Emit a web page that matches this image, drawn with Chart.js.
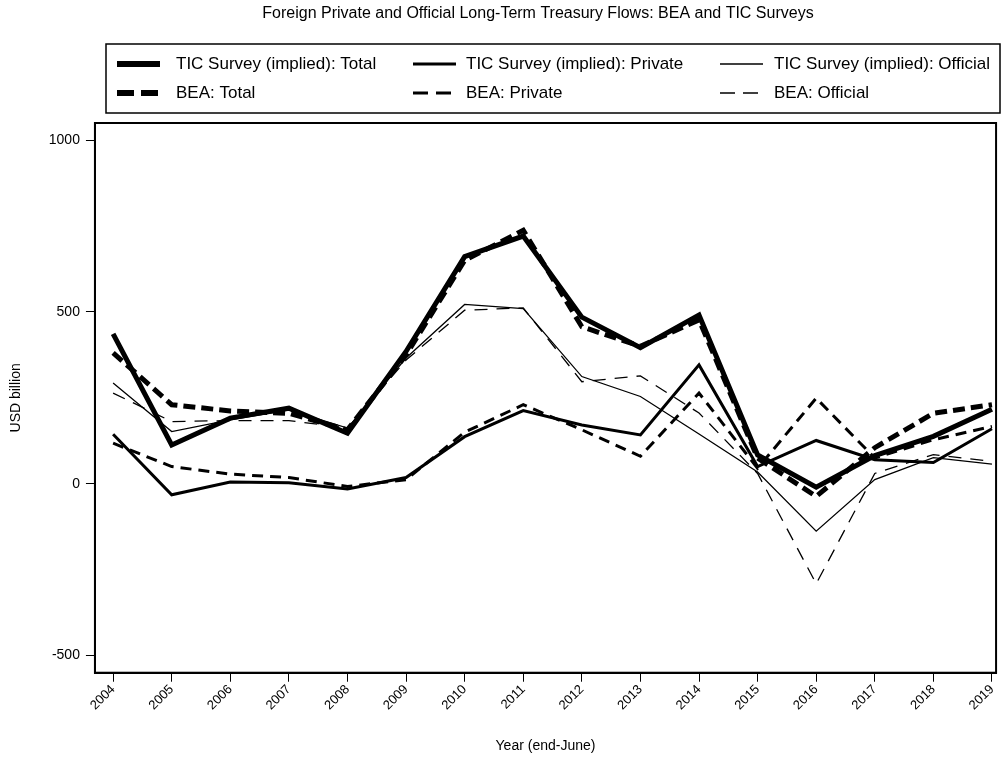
<!DOCTYPE html>
<html>
<head>
<meta charset="utf-8">
<script src="https://cdn.jsdelivr.net/npm/chart.js@4.4.1/dist/chart.umd.min.js"></script>
<style>
  html, body { margin: 0; padding: 0; background: #fff; }
  #wrap { width: 1003px; height: 759px; }
</style>
</head>
<body>
<div id="wrap"><canvas id="flowsChart" width="1003" height="759"></canvas></div>
<script>
const years = [2004, 2005, 2006, 2007, 2008, 2009, 2010, 2011, 2012, 2013, 2014, 2015, 2016, 2017, 2018, 2019];
const yTicks = [-500, 0, 500, 1000];

// USD billion
const ticTotal    = [436, 113, 191, 220, 147, 385, 661, 721, 485, 396, 491, 84, -10, 82, 138, 217];
const ticPrivate  = [144, -32, 5, 3, -15, 18, 137, 213, 171, 142, 346, 50, 126, 70, 62, 160];
const ticOfficial = [293, 152, 186, 215, 162, 366, 522, 510, 312, 254, 145, 34, -138, 12, 76, 57];
const beaTotal    = [381, 230, 212, 205, 157, 375, 650, 738, 457, 400, 477, 75, -37, 105, 205, 230];
const beaPrivate  = [118, 50, 28, 18, -8, 12, 150, 230, 157, 80, 264, 45, 249, 75, 128, 167];
const beaOfficial = [264, 181, 184, 184, 162, 360, 505, 512, 297, 314, 206, 30, -291, 30, 85, 65];

const FONT = "'Liberation Sans', Arial, sans-serif";

function toPoints(values) {
    return years.map((yr, i) => ({ x: yr, y: values[i] }));
}

const seriesDefs = [
    { label: 'TIC Survey (implied): Total',    data: ticTotal,    width: 5,   dash: [] },
    { label: 'TIC Survey (implied): Private',  data: ticPrivate,  width: 3,   dash: [] },
    { label: 'TIC Survey (implied): Official', data: ticOfficial, width: 1.3, dash: [] },
    { label: 'BEA: Total',    data: beaTotal,    width: 5,   dash: [12, 6] },
    { label: 'BEA: Private',  data: beaPrivate,  width: 3,   dash: [11, 7] },
    { label: 'BEA: Official', data: beaOfficial, width: 1.3, dash: [13, 9] }
];

// title, framed legend and the box round the plot
const decorPlugin = {
    id: 'decor',
    afterDraw(chart) {
        const ctx = chart.ctx;
        const area = chart.chartArea;
        ctx.save();
        ctx.fillStyle = '#000';
        ctx.font = '16px ' + FONT;
        ctx.textAlign = 'center';
        ctx.textBaseline = 'middle';
        ctx.fillText('Foreign Private and Official Long-Term Treasury Flows: BEA and TIC Surveys', 538, 14);

        ctx.strokeStyle = '#000';
        ctx.lineWidth = 1.5;
        ctx.strokeRect(106, 44, 894, 69);

        ctx.font = '17px ' + FONT;
        const cols = [[117, 176], [413, 466], [720, 774]];
        const rows = [64, 93];
        seriesDefs.forEach((s, i) => {
            const col = cols[i % 3];
            const row = rows[Math.floor(i / 3)];
            ctx.beginPath();
            ctx.lineWidth = s.width === 5 ? 6 : s.width;
            ctx.setLineDash(s.dash.length ? (s.width === 5 ? [17, 7] : [15, 8]) : []);
            ctx.moveTo(col[0], row);
            ctx.lineTo(col[0] + 43, row);
            ctx.stroke();
            ctx.setLineDash([]);
            ctx.textAlign = 'left';
            ctx.fillText(s.label, col[1], row);
        });

        ctx.lineWidth = 2;
        ctx.strokeRect(area.left, area.top, area.right - area.left, area.bottom - area.top);
        ctx.restore();
    }
};

new Chart(document.getElementById('flowsChart'), {
    type: 'line',
    data: {
        datasets: seriesDefs.map(s => ({
            label: s.label,
            data: toPoints(s.data),
            borderColor: '#000',
            borderWidth: s.width,
            borderDash: s.dash,
            borderCapStyle: 'butt',
            borderJoinStyle: 'miter',
            pointRadius: 0,
            tension: 0,
            fill: false
        }))
    },
    options: {
        responsive: false,
        animation: false,
        layout: { autoPadding: false, padding: { top: 123, right: 1, left: 8, bottom: 4 } },
        plugins: {
            legend: { display: false },
            tooltip: { enabled: false }
        },
        scales: {
            x: {
                type: 'linear',
                min: 2003.69,
                max: 2019.07,
                afterBuildTicks: axis => { axis.ticks = years.map(v => ({ value: v })); },
                ticks: {
                    autoSkip: false,
                    minRotation: 45,
                    maxRotation: 45,
                    color: '#000',
                    font: { family: FONT, size: 13 },
                    padding: 0,
                    callback: v => String(v)
                },
                grid: { drawOnChartArea: false, drawTicks: true, tickLength: 9, color: '#000', lineWidth: 1 },
                border: { color: '#000', width: 2 },
                title: {
                    display: true,
                    text: 'Year (end-June)',
                    color: '#000',
                    font: { family: FONT, size: 14 },
                    padding: { top: 25, bottom: 0 }
                }
            },
            y: {
                min: -550,
                max: 1050,
                afterBuildTicks: axis => { axis.ticks = yTicks.map(v => ({ value: v })); },
                ticks: {
                    color: '#000',
                    font: { family: FONT, size: 14 },
                    padding: 6,
                    callback: v => String(v)
                },
                grid: { drawOnChartArea: false, drawTicks: true, tickLength: 9, color: '#000', lineWidth: 1 },
                border: { color: '#000', width: 2 },
                title: {
                    display: true,
                    text: 'USD billion',
                    color: '#000',
                    font: { family: FONT, size: 14 },
                    padding: { top: 0, bottom: 18 }
                }
            }
        }
    },
    plugins: [decorPlugin]
});
</script>
</body>
</html>
